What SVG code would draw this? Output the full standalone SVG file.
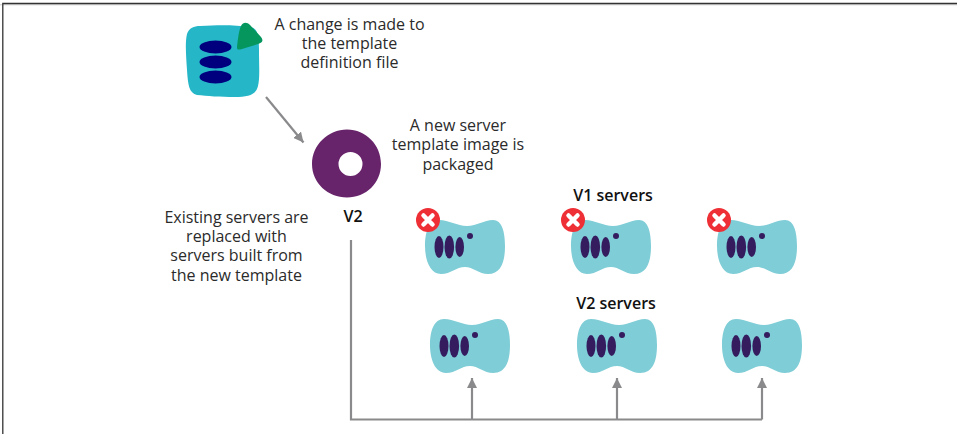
<svg xmlns="http://www.w3.org/2000/svg" width="957" height="434" viewBox="0 0 957 434">
<style>
text{font-family:"Open Sans","Noto Sans",sans-serif;font-size:16px;fill:#2b2b2b;text-anchor:middle}
.b{font-weight:600;fill:#111}
.srv{fill:#7fcdd6}
.dk{fill:#351c5e}
.conn{fill:none;stroke:#8a8a8c;stroke-width:2.2}
.x{stroke:#fff;stroke-width:4.5;stroke-linecap:round;fill:none}
</style>
<defs>
<marker id="arr" viewBox="0 0 10 10" refX="10" refY="5" markerWidth="10" markerHeight="10" markerUnits="userSpaceOnUse" orient="auto"><path d="M0 0L10 5L0 10Z" fill="#8a8a8c"/></marker>
<g id="server">
<path class="srv" d="M14 0C24 0 32 6 42 6C52 6 59 0 68 0C77 0 80 12 80 26C80 42 76 54 63 54C54 54 48 47 40 47C31 47 26 54 16 54C5 54 0 40 0 26C0 12 4 0 14 0Z"/>
<ellipse class="dk" cx="14" cy="27" rx="4.500" ry="11"/><ellipse class="dk" cx="24.300" cy="27" rx="4.800" ry="11.500"/><ellipse class="dk" cx="34.700" cy="27" rx="4.300" ry="10"/>
<circle class="dk" cx="45" cy="16" r="3"/>
</g>
<g id="cross"><circle cx="0" cy="0" r="12" fill="#ef2f36"/><path class="x" d="M-4.500-4.500L4.500 4.500M4.500-4.500L-4.500 4.500"/></g>
</defs>
<rect width="957" height="434" fill="#fff"/>
<path d="M0 4.800H957" stroke="#ccc" stroke-width="1"/>
<path d="M2.800 434V3.500H957" fill="none" stroke="#333" stroke-width="1.300"/>
<g id="connectors">
<path class="conn" d="M266 97L303.500 142.500" marker-end="url(#arr)"/>
<path class="conn" d="M351 240V419.500H762"/>
<path class="conn" d="M472 419.500V378" marker-end="url(#arr)"/>
<path class="conn" d="M617 419.500V378" marker-end="url(#arr)"/>
<path class="conn" d="M762 419.500V378" marker-end="url(#arr)"/>
</g>
<g id="template-file">
<path d="M200 26C220 25 235 25 250 27C258 28 259 36 259 50C259 66 260 78 258 86C256 95 248 97 235 97C220 97 207 96 197 95C189 93 188 85 187 70C186 55 185 42 187 34C189 28 194 26 200 26Z" fill="#25b6c8"/>
<ellipse cx="215.500" cy="47" rx="16" ry="6.500" fill="#00007f"/><ellipse cx="215.500" cy="62" rx="16" ry="6.500" fill="#00007f"/><ellipse cx="215.500" cy="77" rx="16" ry="6.500" fill="#00007f"/>
<path d="M237 47C238 38 239 30 241 26C243 22 247 22 250 25L261 37C264 41 262 43 258 44L242 49C238 50 237 50 237 47Z" fill="#05965e"/>
<text x="349.500" y="30">A change is made to<tspan x="349.500" dy="19.200">the template</tspan><tspan x="349.500" dy="19.200">definition file</tspan></text>
</g>
<g id="server-image">
<path fill-rule="evenodd" fill="#68246a" d="M347 129.500C366 129.500 381 145 381 164C381 183 366 197.500 347 197.500C328 197.500 312 183 312 164C312 145 328 129.500 347 129.500ZM350.500 152A12 12 0 1 0 350.500 176A12 12 0 1 0 350.500 152Z"/>
<text class="b" x="353" y="222">V2</text>
<text x="458" y="131">A new server<tspan x="458" dy="19.400">template image is</tspan><tspan x="458" dy="19.400">packaged</tspan></text>
</g>
<text x="236.500" y="223">Existing servers are<tspan x="236.500" dy="19.200">replaced with</tspan><tspan x="236.500" dy="19.200">servers built from</tspan><tspan x="236.500" dy="19.200">the new template</tspan></text>
<text class="b" x="613" y="201">V1 servers</text>
<text class="b" x="616" y="309">V2 servers</text>
<g id="v1-a"><use href="#server" x="425" y="220"/><use href="#cross" x="428" y="220"/></g>
<g id="v1-b"><use href="#server" x="571" y="220"/><use href="#cross" x="573" y="220"/></g>
<g id="v1-c"><use href="#server" x="717" y="220"/><use href="#cross" x="719" y="220"/></g>
<g id="v2-a"><use href="#server" x="430" y="319"/></g>
<g id="v2-b"><use href="#server" x="577" y="319"/></g>
<g id="v2-c"><use href="#server" x="722" y="319"/></g>
</svg>
